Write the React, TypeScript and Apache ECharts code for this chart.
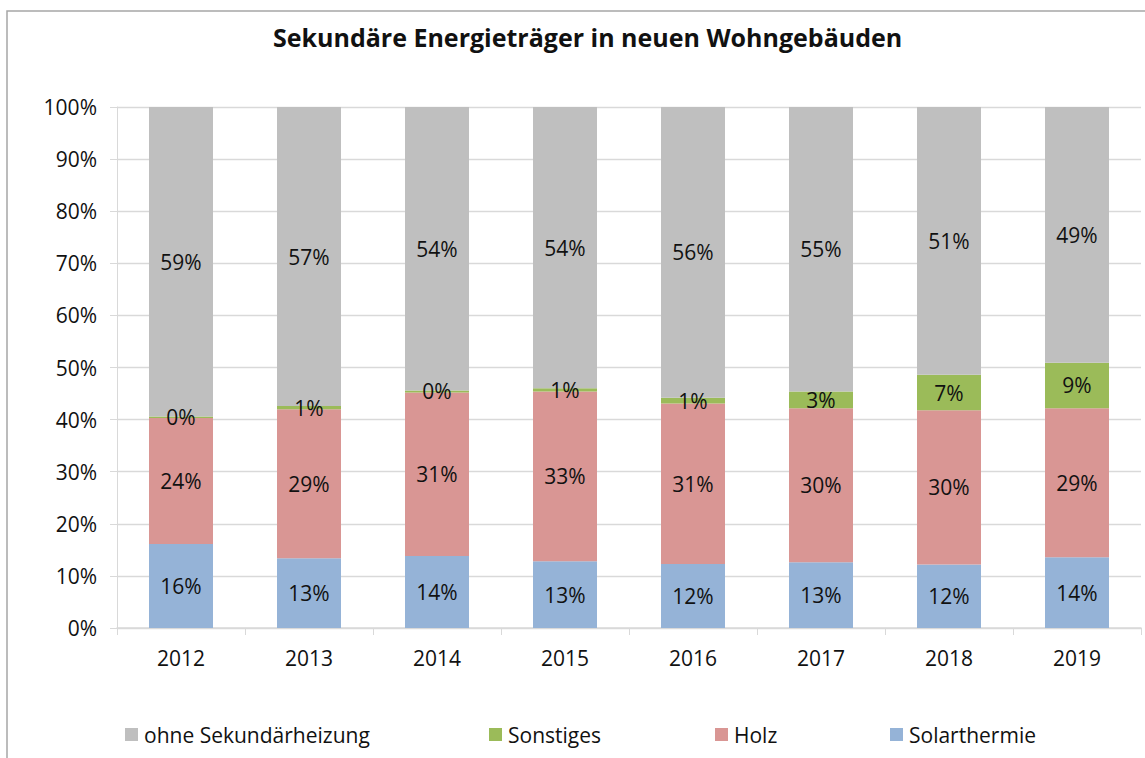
import React, { useEffect, useRef } from "react";
import * as echarts from "echarts";

const years = ["2012", "2013", "2014", "2015", "2016", "2017", "2018", "2019"];
const solarthermie = [16.1, 13.4, 13.8, 12.8, 12.3, 12.6, 12.2, 13.6];
const holz = [24.2, 28.6, 31.4, 32.6, 30.8, 29.6, 29.6, 28.6];
const sonstiges = [0.3, 0.6, 0.4, 0.6, 1.1, 3.2, 6.8, 8.7];
const ohne = [59.4, 57.4, 54.4, 54.0, 55.8, 54.6, 51.4, 49.1];
const yTicks = [0, 10, 20, 30, 40, 50, 60, 70, 80, 90, 100];

const FONT = "'Open Sans', 'Noto Sans', sans-serif";

export default function App() {
  const ref = useRef<HTMLDivElement>(null);
  useEffect(() => {
    if (!ref.current) return;
    const chart = echarts.init(ref.current, null, { renderer: "svg" });
    const label = {
      show: true,
      position: "inside",
      color: "#111",
      fontFamily: FONT,
      fontSize: 21,
      formatter: (p: any) => Math.round(p.value) + "%",
    };
    const mk = (name: string, data: number[], color: string) => ({
      name,
      type: "bar",
      stack: "total",
      data,
      barWidth: "50%",
      itemStyle: { color },
      label,
      emphasis: { disabled: true },
    });
    const legendItem = (name: string, left: number) => ({
      data: [name],
      left,
      top: 719,
      itemWidth: 13,
      itemHeight: 13,
      itemGap: 0,
      icon: "rect",
      selectedMode: false,
      textStyle: { fontFamily: FONT, fontSize: 21, color: "#111", padding: [0, 0, 0, 1] },
    });
    chart.setOption({
      animation: false,
      backgroundColor: "#fff",
      title: {
        text: "Sekundäre Energieträger in neuen Wohngebäuden",
        left: 268,
        top: 19,
        textStyle: { fontFamily: FONT, fontSize: 25, fontWeight: "bold", color: "#111" },
      },
      graphic: [
        {
          type: "rect",
          shape: { x: 7, y: 11, width: 1160, height: 780 },
          style: { fill: "none", stroke: "#a6a6a6", lineWidth: 1.5 },
          silent: true,
        },
      ],
      legend: [
        legendItem("ohne Sekundärheizung", 120),
        legendItem("Sonstiges", 484),
        legendItem("Holz", 710),
        legendItem("Solarthermie", 885),
      ],
      grid: { left: 117, right: 4, top: 107, bottom: 130, containLabel: false },
      xAxis: {
        type: "category",
        data: years,
        axisLine: { show: true, lineStyle: { color: "#d9d9d9", width: 1.5 } },
        axisTick: { show: true, length: 7, lineStyle: { color: "#d9d9d9" } },
        axisLabel: { fontFamily: FONT, fontSize: 21, color: "#111", margin: 19 },
      },
      yAxis: {
        type: "value",
        min: 0,
        max: 100,
        interval: 10,
        axisLine: { show: true, lineStyle: { color: "#d9d9d9" } },
        axisTick: { show: true, length: 7, lineStyle: { color: "#d9d9d9" } },
        splitLine: { show: true, lineStyle: { color: "#d9d9d9", width: 1.3 } },
        axisLabel: {
          fontFamily: FONT,
          fontSize: 21,
          color: "#111",
          margin: 20,
          formatter: (v: number) => (yTicks.includes(v) ? v + "%" : ""),
        },
      },
      series: [
        mk("Solarthermie", solarthermie, "#95b3d7"),
        mk("Holz", holz, "#d99694"),
        mk("Sonstiges", sonstiges, "#9bbb59"),
        mk("ohne Sekundärheizung", ohne, "#bfbfbf"),
      ],
    });
    return () => chart.dispose();
  }, []);
  return (
    <div
      ref={ref}
      style={{ position: "fixed", left: 0, top: 0, width: 1145, height: 758 }}
    />
  );
}
